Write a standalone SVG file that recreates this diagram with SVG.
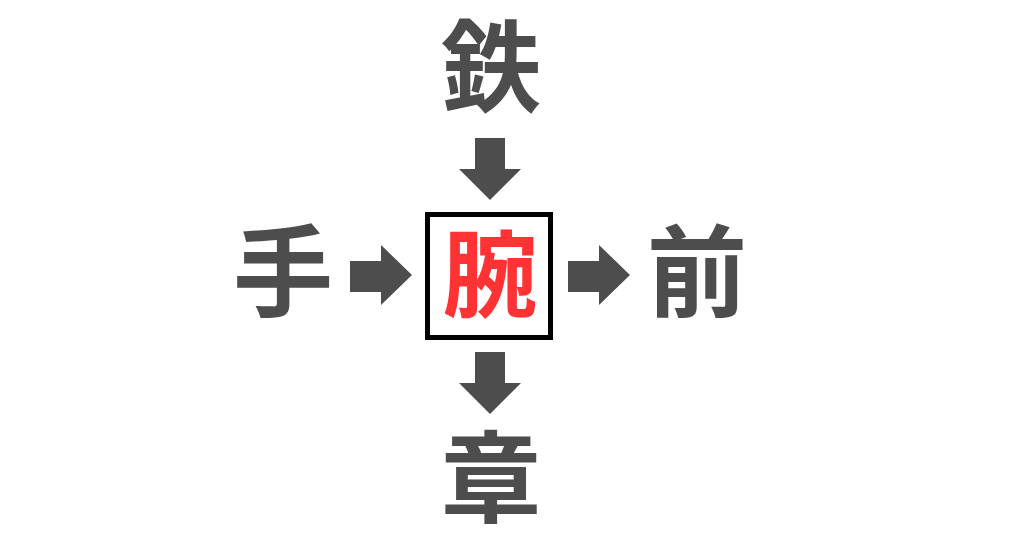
<svg xmlns="http://www.w3.org/2000/svg" width="1024" height="538" viewBox="0 0 1024 538">
<style>
.k{font-family:"Noto Sans CJK JP","Noto Sans CJK SC",sans-serif;font-weight:bold;font-size:100px;fill:#4d4d4d;text-anchor:middle}
.a{fill:#4d4d4d}
</style>
<rect width="1024" height="538" fill="#ffffff"/>
<g id="top"><text class="k" x="491" y="104">鉄</text></g>
<g id="left"><text class="k" x="283" y="309">手</text></g>
<g id="right"><text class="k" x="697" y="309">前</text></g>
<g id="bottom"><text class="k" x="491" y="515">章</text></g>
<g id="center">
<rect x="427.5" y="214.5" width="123" height="123" fill="#ffffff" stroke="#000000" stroke-width="5"/>
<text class="k" x="490" y="310" font-size="95" style="fill:#ff3333;font-size:95px">腕</text>
</g>
<g id="connectors">
<polygon class="a" points="475,138 505,138 505,169 521,169 490,200 459,169 475,169"/>
<polygon class="a" points="350,261 381,261 381,245 412,275 381,305 381,292 350,292"/>
<polygon class="a" points="568,261 599,261 599,245 630,275 599,305 599,292 568,292"/>
<polygon class="a" points="475,352 505,352 505,383 521,383 490,414 459,383 475,383"/>
</g>
</svg>
